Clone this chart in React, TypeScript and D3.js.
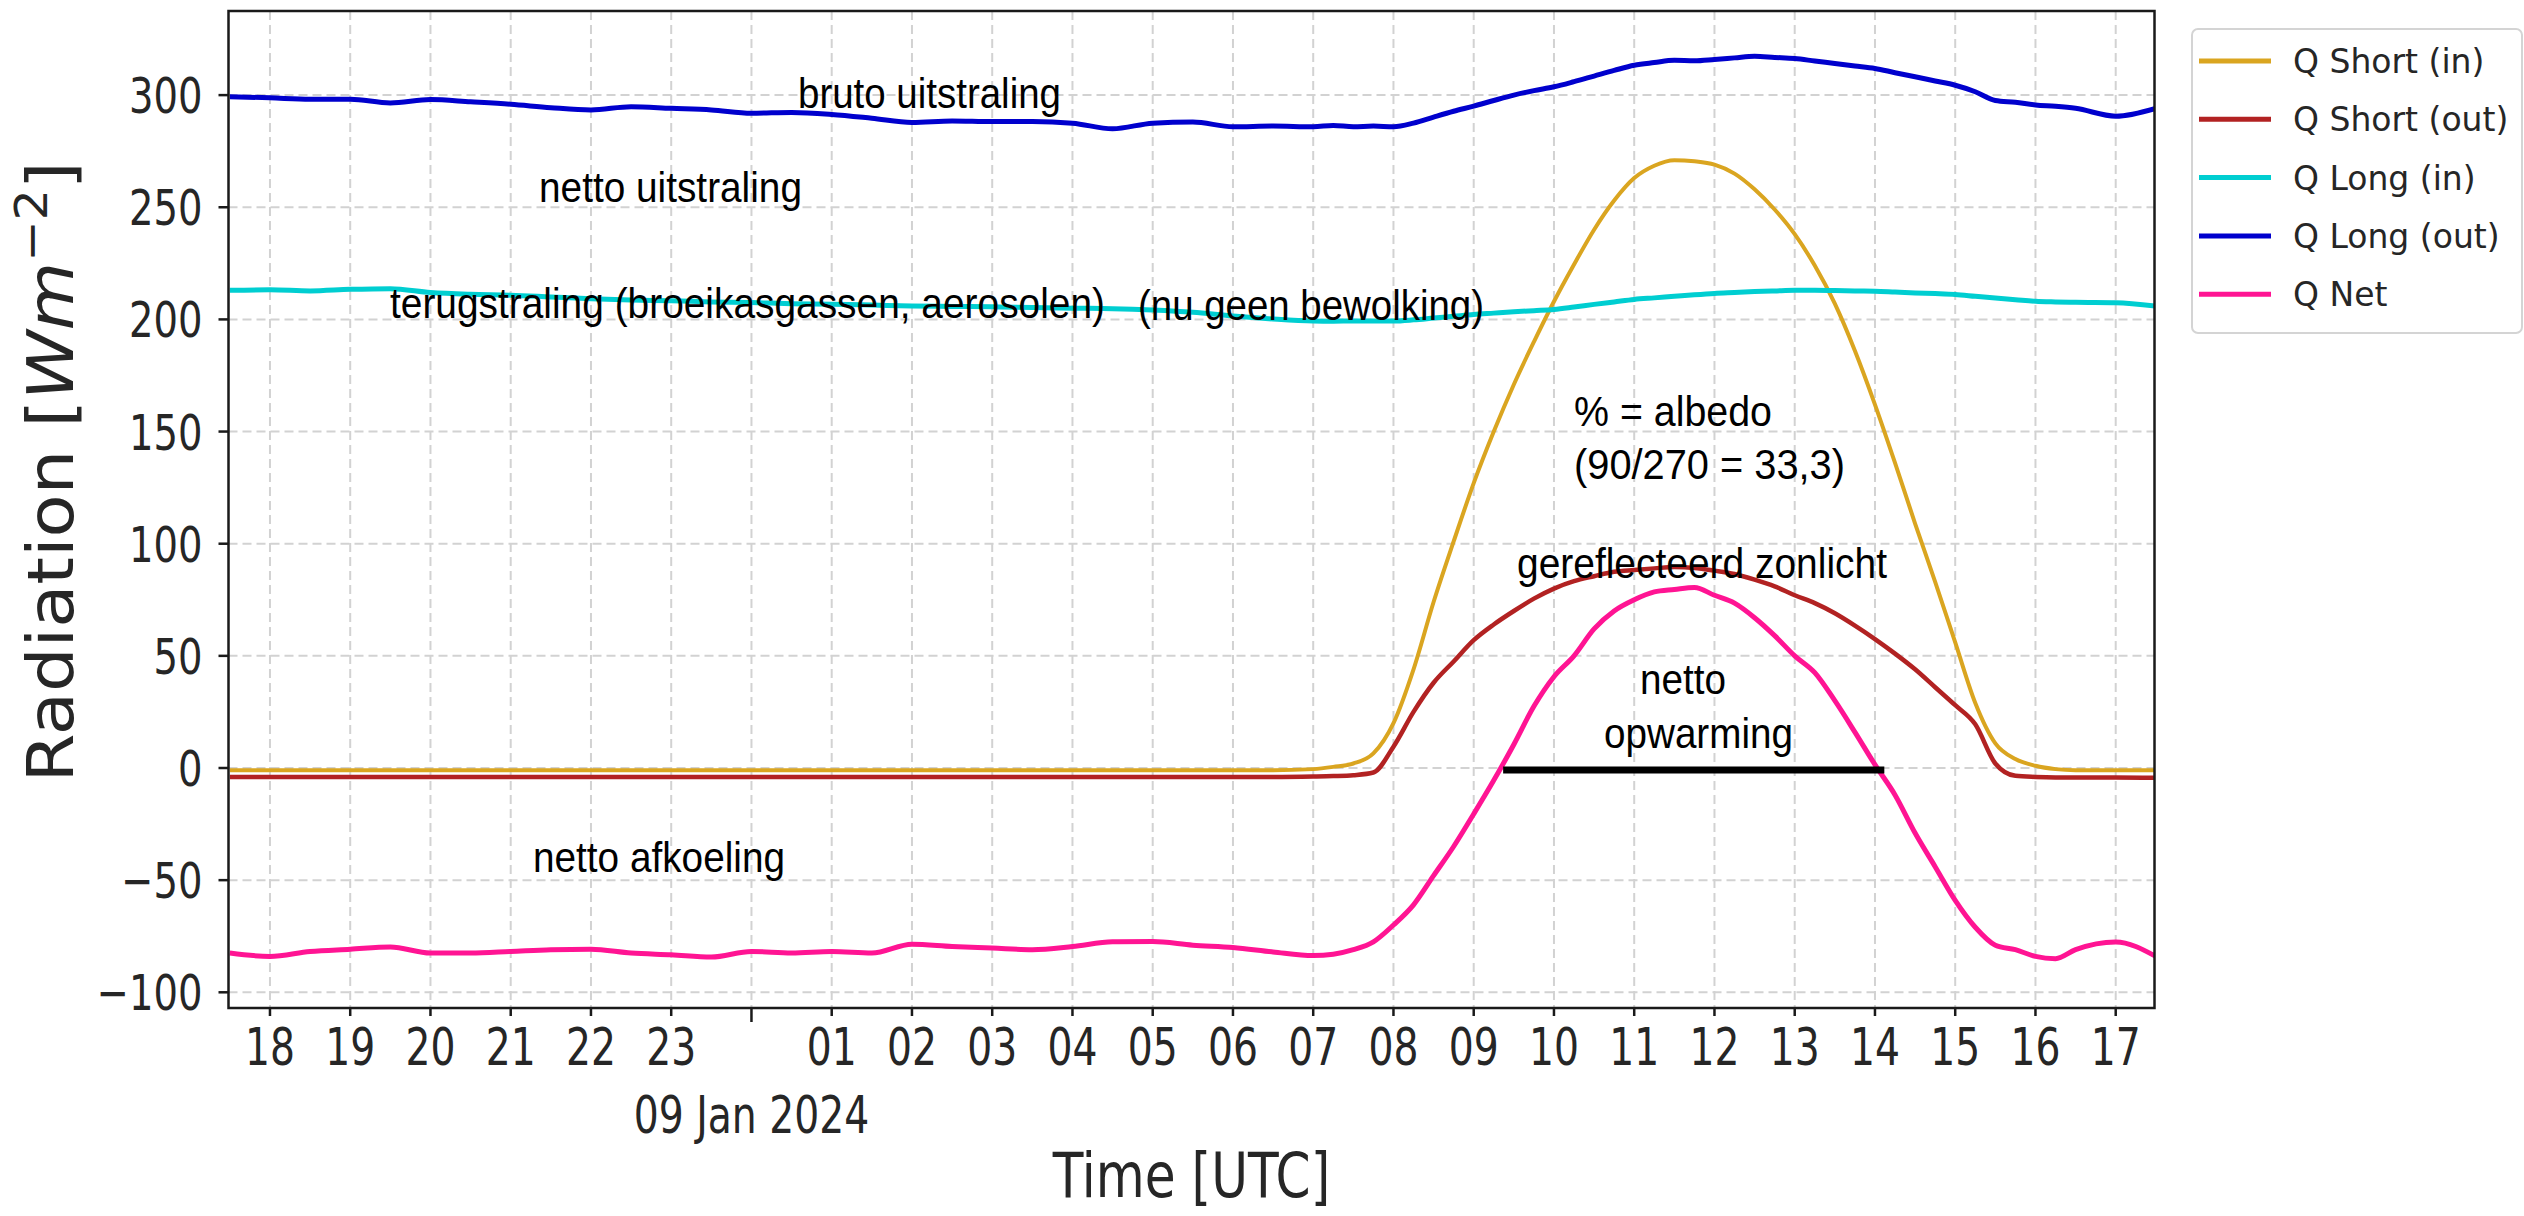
import * as d3 from "d3";

// time stamps (UTC), 30 min at night, 15 min during daylight
const times = [
  "17:30", "18:00", "18:30", "19:00", "19:30", "20:00", "20:30", "21:00", "21:30", "22:00",
  "22:30", "23:00", "23:30", "00:00", "00:30", "01:00", "01:30", "02:00", "02:30", "03:00",
  "03:30", "04:00", "04:30", "05:00", "05:30", "06:00", "06:30",
  "07:00", "07:15", "07:30", "07:45", "08:00", "08:15", "08:30", "08:45", "09:00", "09:15",
  "09:30", "09:45", "10:00", "10:15", "10:30", "10:45", "11:00", "11:15", "11:30", "11:45",
  "12:00", "12:15", "12:30", "12:45", "13:00", "13:15", "13:30", "13:45", "14:00", "14:15",
  "14:30", "14:45", "15:00", "15:15", "15:30", "15:45", "16:00", "16:15", "16:30",
  "17:00", "17:30",
];

const qShortIn = [
  -1, -1, -1, -1, -1, -1, -1, -1, -1, -1, -1, -1, -1, -1, -1, -1, -1, -1, -1, -1, -1, -1, -1, -1, -1, -1, -1,
  -0.5, 0.5, 2, 6.5, 20, 44, 74, 101, 127, 150, 171, 190, 208, 224.5, 240, 253, 263, 268.5, 271, 270.5,
  269, 265, 258, 249, 238, 224, 207, 186, 162, 136, 109, 83, 56, 29, 11, 4, 1, -0.5, -1,
  -1, -1,
];

const qShortOut = [
  -4, -4, -4, -4, -4, -4, -4, -4, -4, -4, -4, -4, -4, -4, -4, -4, -4, -4, -4, -4, -4, -4, -4, -4, -4, -4, -4,
  -3.8, -3.6, -3.2, -2, 9.5, 25, 38, 47.5, 57, 64, 70, 75.5, 80, 83.3, 85.5, 87.5, 88.3, 89, 89.6, 89.2,
  88, 86.5, 84, 81, 77, 73.5, 69, 63.5, 57.5, 51, 44, 36, 28, 19.5, 2, -3.5, -4, -4.2, -4.2,
  -4.2, -4.4,
];

const qLongIn = [
  213.0, 213.2, 212.7, 213.4, 213.7, 212.0, 211.2, 210.8, 210.0, 209.2, 208.6, 208.3, 207.8, 207.5,
  207.0, 206.8, 206.4, 206.0, 205.8, 205.6, 205.3, 205.0, 204.8, 204.2, 203.2, 201.5, 200.2,
  199.3, 199.2, 199.3, 199.3, 199.3, 199.8, 200.6, 201.4, 202.2, 202.8, 203.4, 203.9, 204.4, 205.5,
  206.7, 207.8, 208.9, 209.6, 210.3, 211.0, 211.6, 212.0, 212.4, 212.7, 213.0, 213.0, 212.9, 212.7,
  212.6, 212.2, 211.8, 211.5, 211.1, 210.3, 209.5, 208.8, 208.1, 207.8, 207.6,
  207.4, 205.9,
];

const qLongOut = [
  299.3, 298.8, 298.2, 298.2, 296.5, 298.0, 297.0, 295.9, 294.4, 293.4, 294.8, 294.1, 293.4, 291.9,
  292.3, 291.4, 289.7, 287.8, 288.5, 288.2, 288.2, 287.5, 285.0, 287.5, 288.0, 285.9, 286.2,
  285.9, 286.5, 285.9, 286.2, 285.9, 287.5, 290.2, 292.8, 295.1, 297.6, 300.0, 302.0, 303.7, 306.0,
  308.5, 311.0, 313.3, 314.5, 315.5, 315.3, 315.9, 316.6, 317.3, 316.8, 316.3, 315.2, 314.1, 313.0,
  311.9, 310.0, 308.2, 306.3, 304.4, 301.5, 297.6, 296.8, 295.6, 295.0, 294.1,
  290.6, 294.1,
];

const qNet = [
  -82.5, -84, -81.8, -80.8, -79.8, -82.5, -82.5, -81.8, -81, -80.8, -82.5, -83.3, -84.3, -81.8,
  -82.5, -81.8, -82.5, -78.6, -79.6, -80.3, -81, -79.6, -77.5, -77.4, -79, -80, -82,
  -83.6, -83, -81, -77.5, -70, -61, -48, -35, -20.5, -5.5, 10.5, 27.5, 40.7, 50, 62, 70, 75, 78.5,
  79.6, 80.5, 77, 73.5, 67, 59, 50, 42.5, 30, 16, 1.5, -12, -29, -44, -59, -71, -79, -81, -84, -85, -81,
  -77.6, -84,
];

const seriesNames = ["Q Short (in)", "Q Short (out)", "Q Long (in)", "Q Long (out)", "Q Net"];
const seriesColors = ["#DAA520", "#B22222", "#00CED1", "#0000CD", "#FF1493"];
const seriesValues = [qShortIn, qShortOut, qLongIn, qLongOut, qNet];

const yTicks = [-100, -50, 0, 50, 100, 150, 200, 250, 300];

// hand drawn notes on the picture
const notes = [
  { text: "bruto uitstraling", x: 798, y: 108, w: 263 },
  { text: "netto uitstraling", x: 539, y: 202, w: 263 },
  { text: "terugstraling (broeikasgassen, aerosolen)", x: 390, y: 318, w: 715 },
  { text: "(nu geen bewolking)", x: 1138, y: 320, w: 346 },
  { text: "% = albedo", x: 1574, y: 426, w: 198 },
  { text: "(90/270 = 33,3)", x: 1574, y: 479, w: 271 },
  { text: "gereflecteerd zonlicht", x: 1517, y: 578, w: 370 },
  { text: "netto", x: 1640, y: 694, w: 86 },
  { text: "opwarming", x: 1604, y: 748, w: 189 },
  { text: "netto afkoeling", x: 533, y: 872, w: 252 },
];
const warmBar = { from: "09:22", to: "14:07", value: 0 };

const W = 2524;
const H = 1216;
const plot = { left: 228.5, right: 2154.5, top: 11, bottom: 1008 };
const font = "'DejaVu Sans', sans-serif";

function toDates(list: string[]) {
  let day = 8;
  let prev = -1;
  return list.map((t) => {
    const [h, m] = t.split(":").map(Number);
    if (h < prev) day++;
    prev = h;
    return new Date(Date.UTC(2024, 0, day, h, m));
  });
}

export default function App() {
  const dates = toDates(times);
  const start = new Date(Date.UTC(2024, 0, 8, 17, 29));
  const end = new Date(Date.UTC(2024, 0, 9, 17, 29));
  const x = d3.scaleUtc().domain([start, end]).range([plot.left, plot.right]);
  const y = d3.scaleLinear().domain([-107, 337.5]).range([plot.bottom, plot.top]);
  const hours = d3.utcHour.range(start, end);
  const fmtHour = d3.utcFormat("%H");
  const fmtY = (v: number) => (v < 0 ? "\u2212" + Math.abs(v) : String(v));

  const line = d3
    .line<number>()
    .x((_, i) => x(dates[i]))
    .y((v) => y(v))
    .curve(d3.curveMonotoneX);

  const barDates = toDates([warmBar.from, warmBar.to]).map(
    (d) => new Date(d.getTime() + 24 * 3600 * 1000)
  );

  return (
    <div style={{ width: W, height: H, position: "absolute", left: 0, top: 0 }}>
      <style>{`body{margin:0}`}</style>
      <svg width={W} height={H} style={{ display: "block", background: "white" }}>
        <defs>
          <clipPath id="plotArea">
            <rect x={plot.left} y={plot.top} width={plot.right - plot.left} height={plot.bottom - plot.top} />
          </clipPath>
        </defs>

        {/* grid */}
        <g stroke="#d2d2d2" strokeWidth={2} strokeDasharray="9,5">
          {hours.map((d, i) => (
            <line key={"gx" + i} x1={x(d)} x2={x(d)} y1={plot.top} y2={plot.bottom} />
          ))}
          {yTicks.map((v) => (
            <line key={"gy" + v} x1={plot.left} x2={plot.right} y1={y(v)} y2={y(v)} />
          ))}
        </g>

        {/* series */}
        <g clipPath="url(#plotArea)" fill="none" strokeLinejoin="round">
          {seriesValues.map((vals, i) => (
            <path
              key={seriesNames[i]}
              d={line(vals) || ""}
              stroke={seriesColors[i]}
              strokeWidth={i === 0 ? 4 : i === 1 ? 4.5 : 5}
            />
          ))}
        </g>

        {/* black bar: netto opwarming */}
        <line
          x1={x(barDates[0])}
          x2={x(barDates[1])}
          y1={y(warmBar.value) + 2}
          y2={y(warmBar.value) + 2}
          stroke="#000"
          strokeWidth={7}
        />

        {/* notes */}
        <g fontFamily="'Liberation Sans', Arial, sans-serif" fontSize={42} fill="#000">
          {notes.map((n) => (
            <text key={n.text} x={n.x} y={n.y} textLength={n.w} lengthAdjust="spacingAndGlyphs">
              {n.text}
            </text>
          ))}
        </g>

        {/* frame */}
        <rect
          x={plot.left}
          y={plot.top}
          width={plot.right - plot.left}
          height={plot.bottom - plot.top}
          fill="none"
          stroke="#1a1a1a"
          strokeWidth={2.5}
        />

        {/* y axis */}
        <g fontFamily={font} fill="#262626">
          {yTicks.map((v) => (
            <g key={"yt" + v}>
              <line x1={plot.left - 10} x2={plot.left} y1={y(v)} y2={y(v)} stroke="#1a1a1a" strokeWidth={2.5} />
              <text
                transform={`translate(${plot.left - 26},${y(v) + 18}) scale(0.77,1)`}
                textAnchor="end"
                fontSize={50}
              >
                {fmtY(v)}
              </text>
            </g>
          ))}
        </g>

        {/* x axis */}
        <g fontFamily={font} fill="#262626">
          {hours.map((d, i) => {
            const midnight = d.getUTCHours() === 0;
            return (
              <g key={"xt" + i}>
                <line
                  x1={x(d)}
                  x2={x(d)}
                  y1={plot.bottom}
                  y2={plot.bottom + (midnight ? 14 : 8)}
                  stroke="#1a1a1a"
                  strokeWidth={2.5}
                />
                {midnight ? (
                  <text
                    transform={`translate(${x(d)},1133) scale(0.77,1)`}
                    textAnchor="middle"
                    fontSize={51}
                  >
                    {d3.utcFormat("%d %b %Y")(d)}
                  </text>
                ) : (
                  <text
                    transform={`translate(${x(d)},1065) scale(0.77,1)`}
                    textAnchor="middle"
                    fontSize={51}
                  >
                    {fmtHour(d)}
                  </text>
                )}
              </g>
            );
          })}
        </g>

        {/* axis titles */}
        <text
          transform={`translate(${(plot.left + plot.right) / 2},1197) scale(0.81,1)`}
          textAnchor="middle"
          fontFamily={font}
          fontSize={62}
          fill="#262626"
        >
          Time [UTC]
        </text>
        <text
          transform="translate(73,472) rotate(-90) scale(1.1,1)"
          textAnchor="middle"
          fontFamily={font}
          fontSize={64}
          fill="#262626"
        >
          Radiation [<tspan fontStyle="italic">Wm</tspan>
          <tspan fontSize={45} dy={-26}>
            {"\u22122"}
          </tspan>
          <tspan dy={26}>]</tspan>
        </text>

        {/* legend */}
        <g fontFamily={font}>
          <rect x={2192} y={29} width={330} height={304} rx={6} fill="white" stroke="#d4d4d4" strokeWidth={2} />
          {seriesNames.map((name, i) => {
            const ly = 61 + i * 58.3;
            return (
              <g key={"lg" + name}>
                <line x1={2199} x2={2271} y1={ly} y2={ly} stroke={seriesColors[i]} strokeWidth={5} />
                <text x={2293} y={ly + 12} fontSize={33} fill="#262626">
                  {name}
                </text>
              </g>
            );
          })}
        </g>
      </svg>
    </div>
  );
}
